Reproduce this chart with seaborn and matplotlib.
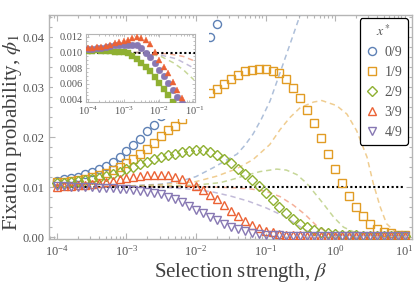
import matplotlib
matplotlib.use("Agg")
import matplotlib.pyplot as plt
import seaborn as sns
from matplotlib.lines import Line2D
from matplotlib.patches import Rectangle
from matplotlib.ticker import LogLocator, MultipleLocator, NullFormatter, FormatStrFormatter

# selection strengths of the simulations (10 per decade)
BETA = [1.00e-4, 1.26e-4, 1.58e-4, 2.00e-4, 2.51e-4, 3.16e-4, 3.98e-4, 5.01e-4, 6.31e-4, 7.94e-4,
        1.00e-3, 1.26e-3, 1.58e-3, 2.00e-3, 2.51e-3, 3.16e-3, 3.98e-3, 5.01e-3, 6.31e-3, 7.94e-3,
        1.00e-2, 1.26e-2, 1.58e-2, 2.00e-2, 2.51e-2, 3.16e-2, 3.98e-2, 5.01e-2, 6.31e-2, 7.94e-2,
        0.100, 0.126, 0.158, 0.200, 0.251, 0.316, 0.398, 0.501, 0.631, 0.794,
        1.00, 1.26, 1.58, 2.00, 2.51, 3.16, 3.98, 5.01, 6.31, 7.94, 10.0]

SIM_0 = [0.0113, 0.0116, 0.0118, 0.0121, 0.0126, 0.0131, 0.0137, 0.0143, 0.0151, 0.0160,
         0.0172, 0.0184, 0.0196, 0.0212, 0.0225, 0.0242, 0.0262, 0.0284, 0.0308, 0.0333,
         0.0358, 0.0380, 0.0400, 0.0426]
SIM_1 = [0.0110, 0.0111, 0.0113, 0.0115, 0.0117, 0.0120, 0.0124, 0.0128, 0.0134, 0.0141,
         0.0149, 0.0157, 0.0166, 0.0177, 0.0189, 0.0203, 0.0215, 0.0222, 0.0236, 0.0250,
         0.0263, 0.0277, 0.0289, 0.0296, 0.0307, 0.0316, 0.0325, 0.0332, 0.0335, 0.0337,
         0.0337, 0.0333, 0.0328, 0.0316, 0.0298, 0.0278, 0.0255, 0.0229, 0.0198, 0.0166,
         0.0137, 0.0109, 0.0083, 0.0060, 0.0042, 0.0027, 0.0017, 0.0011, 0.0008, 0.0005, 0.0004]
SIM_2 = [0.0108, 0.0109, 0.0110, 0.0112, 0.0114, 0.0117, 0.0119, 0.0123, 0.0127, 0.0131,
         0.0136, 0.0141, 0.0146, 0.0151, 0.0156, 0.0160, 0.0164, 0.0167, 0.0170, 0.0172,
         0.0174, 0.0174, 0.0171, 0.0165, 0.0157, 0.0148, 0.0137, 0.0127, 0.0115, 0.0102,
         0.0088, 0.0074, 0.0060, 0.0048, 0.0036, 0.0027, 0.0020, 0.0014, 0.0010, 0.0008,
         0.0006, 0.0005, 0.0004, 0.0004, 0.0003, 0.0003, 0.0003, 0.0003, 0.0003, 0.0003, 0.0003]
SIM_3 = [0.0101, 0.0102, 0.0103, 0.0104, 0.0105, 0.0107, 0.0109, 0.0111, 0.0113, 0.0116,
         0.0118, 0.0120, 0.0122, 0.0124, 0.0125, 0.0125, 0.0124, 0.0121, 0.0116, 0.0111,
         0.0103, 0.0094, 0.0085, 0.0076, 0.0065, 0.0053, 0.0043, 0.0033, 0.0024, 0.0018,
         0.0013, 0.0010, 0.0007, 0.0005, 0.0004, 0.0004, 0.0003, 0.0003, 0.0003, 0.0003,
         0.0003, 0.0003, 0.0003, 0.0003, 0.0003, 0.0003, 0.0003, 0.0003, 0.0003, 0.0003, 0.0003]
SIM_4 = [0.0102, 0.0102, 0.0101, 0.0101, 0.0100, 0.0100, 0.0099, 0.0099, 0.0098, 0.0097,
         0.0096, 0.0095, 0.0093, 0.0091, 0.0089, 0.0086, 0.0081, 0.0076, 0.0070, 0.0062,
         0.0055, 0.0048, 0.0041, 0.0034, 0.0027, 0.0021, 0.0016, 0.0012, 0.0009, 0.0007,
         0.0005, 0.0004, 0.0004, 0.0003, 0.0003, 0.0003, 0.0003, 0.0003, 0.0003, 0.0003,
         0.0003, 0.0003, 0.0003, 0.0003, 0.0003, 0.0003, 0.0003, 0.0003, 0.0003, 0.0003, 0.0003]

# approximation curves (dashed)
TH_0_B = [1e-4, 1e-3, 3.16e-3, 6.31e-3, 1e-2, 1.78e-2, 3.89e-2, 5.01e-2, 6.61e-2, 8.71e-2,
          0.116, 0.162, 0.224, 0.309, 0.355]
TH_0 = [0.0100, 0.0102, 0.0106, 0.0113, 0.0121, 0.0139, 0.0166, 0.0183, 0.0206, 0.0236,
        0.0272, 0.0329, 0.0385, 0.0441, 0.0470]
TH_1_B = [1e-4, 1e-3, 3.16e-3, 1e-2, 2.00e-2, 3.89e-2, 6.61e-2, 0.115, 0.162, 0.224, 0.316,
          0.490, 0.646, 1.05, 1.48, 2.04, 2.88, 3.55, 4.47, 5.50, 7.24, 9.55]
TH_1 = [0.0100, 0.0102, 0.0105, 0.0111, 0.0122, 0.0137, 0.0155, 0.0185, 0.0215, 0.0239, 0.0259,
        0.0270, 0.0273, 0.0263, 0.0246, 0.0213, 0.0160, 0.0107, 0.0060, 0.0027, 0.0011, 0.0004]
TH_2_B = [1e-4, 1e-3, 3.16e-3, 1e-2, 2.24e-2, 3.47e-2, 4.79e-2, 8.32e-2, 0.145, 0.200, 0.282,
          0.389, 0.490, 0.676, 0.955, 1.32, 1.82, 2.57, 4.47, 10.0]
TH_2 = [0.0100, 0.0101, 0.0102, 0.0104, 0.0109, 0.0116, 0.0122, 0.0131, 0.0136, 0.0134, 0.0125,
        0.0108, 0.0091, 0.0067, 0.0040, 0.0020, 0.0011, 0.0006, 0.0003, 0.0003]
TH_3_B = [1e-4, 1e-3, 3.16e-3, 1e-2, 3.16e-2, 5.62e-2, 0.100, 0.162, 0.251, 0.372, 0.550,
          0.794, 1.26, 3.16, 10.0]
TH_3 = [0.0100, 0.0100, 0.0101, 0.0101, 0.0099, 0.0097, 0.0092, 0.0081, 0.0064, 0.0045, 0.0022,
        0.0009, 0.0004, 0.0003, 0.0003]
TH_4_B = [1e-4, 1e-3, 3.98e-3, 1e-2, 1.78e-2, 3.16e-2, 5.62e-2, 0.100, 0.178, 0.282, 0.398,
          0.631, 1.58, 10.0]
TH_4 = [0.0100, 0.0100, 0.0099, 0.0095, 0.0090, 0.0082, 0.0072, 0.0059, 0.0043, 0.0025, 0.0012,
        0.0005, 0.0003, 0.0003]

# inset (8 per decade)
IN_B = [1.00e-4, 1.33e-4, 1.78e-4, 2.37e-4, 3.16e-4, 4.22e-4, 5.62e-4, 7.50e-4,
        1.00e-3, 1.33e-3, 1.78e-3, 2.37e-3, 3.16e-3, 4.22e-3, 5.62e-3, 7.50e-3,
        1.00e-2, 1.33e-2, 1.78e-2, 2.37e-2, 3.16e-2, 4.22e-2]
IN_3 = [0.01053, 0.01062, 0.01066, 0.01075, 0.01083, 0.01096, 0.01118, 0.01139, 0.01147, 0.01160,
        0.01182, 0.01200, 0.01180, 0.01160, 0.01110, 0.01010, 0.00910, 0.00818, 0.00733, 0.00626,
        0.00519, 0.00412]
IN_4 = [0.01045, 0.01050, 0.01053, 0.01060, 0.01075, 0.01083, 0.01090, 0.01090, 0.01096, 0.01096,
        0.01096, 0.01090, 0.01053, 0.01000, 0.00940, 0.00860, 0.00780, 0.00700, 0.00610, 0.00520,
        0.00430, 0.00350]
IN_2 = [0.01024, 0.01024, 0.01028, 0.01020, 0.01020, 0.01020, 0.01010, 0.01010, 0.01010, 0.01000,
        0.00960, 0.00915, 0.00870, 0.00820, 0.00767, 0.00690, 0.00613, 0.00528, 0.00455, 0.00370]
IN_TH_3_B = [1e-4, 5.0e-3, 1.05e-2, 2.0e-2, 4.68e-2, 9.33e-2]
IN_TH_3 = [0.0100, 0.0100, 0.0099, 0.0098, 0.0095, 0.00895]
IN_TH_4_B = [1e-4, 3.0e-3, 1.05e-2, 3.0e-2, 9.33e-2]
IN_TH_4 = [0.0100, 0.0100, 0.0097, 0.0092, 0.0080]
IN_TH_2_B = [1e-4, 2.9e-3, 1.12e-2, 2.45e-2, 4.68e-2, 9.33e-2]
IN_TH_2 = [0.0100, 0.0100, 0.0095, 0.0087, 0.0078, 0.0065]

LABELS = ["0/9", "1/9", "2/9", "3/9", "4/9"]
COLORS = ["#5E81B5", "#E19C24", "#8FB032", "#EB6235", "#8778B3"]
MARKERS = ["o", "s", "D", "^", "v"]
SIZES = [5.8, 5.4, 4.8, 6.2, 6.2]

sns.set_theme(style="ticks")
plt.rcParams["font.family"] = ["Liberation Serif", "DejaVu Serif"]
plt.rcParams["mathtext.fontset"] = "stix"
GREY = "#555555"
FRAME = "#b5b5b5"

fig = plt.figure(figsize=(4.15, 2.83), dpi=100)
ax = fig.add_axes([0.118, 0.155, 0.875, 0.792])

dash = dict(linestyle=(0, (3.5, 2.5)), linewidth=1.1, alpha=0.5)
for xb, yv, c in zip([TH_0_B, TH_1_B, TH_2_B, TH_3_B, TH_4_B],
                     [TH_0, TH_1, TH_2, TH_3, TH_4], COLORS):
    sns.lineplot(x=xb, y=yv, color=c, estimator=None, sort=False, ax=ax, **dash)

ax.plot([1e-4, 10], [0.01, 0.01], color="black", lw=1.5, ls=(0, (1, 1.2)), zorder=3)

for ys, c, m, s in zip([SIM_0, SIM_1, SIM_2, SIM_3, SIM_4], COLORS, MARKERS, SIZES):
    sns.lineplot(x=BETA[:len(ys)], y=ys, color=c, estimator=None, sort=False, ax=ax,
                 linestyle="none", marker=m, markersize=s, markerfacecolor="none",
                 markeredgecolor=c, markeredgewidth=1.0, zorder=4)

ax.set_xscale("log")
ax.set_xlim(10 ** -4.115, 10 ** 1.108)
ax.set_ylim(-0.0004, 0.0444)
ax.xaxis.set_major_locator(LogLocator(base=10, numticks=10))
ax.xaxis.set_minor_locator(LogLocator(base=10, subs=range(2, 10), numticks=20))
ax.xaxis.set_minor_formatter(NullFormatter())
ax.yaxis.set_major_locator(MultipleLocator(0.01))
ax.yaxis.set_minor_locator(MultipleLocator(0.002))
ax.yaxis.set_major_formatter(FormatStrFormatter("%.2f"))
ax.tick_params(which="both", direction="in", top=True, right=True, color=FRAME,
               labelsize=9, labelcolor=GREY, width=0.8)
ax.tick_params(which="major", length=4)
ax.tick_params(which="minor", length=2)
for sp in ax.spines.values():
    sp.set_color(FRAME)
    sp.set_linewidth(1.0)
ax.set_xlabel(r"Selection strength, $\beta$", fontsize=15, color="#404040")
ax.set_ylabel(r"Fixation probability, $\phi_1$", fontsize=15, color="#404040")
ax.xaxis.set_label_coords(0.529, -0.098)
ax.yaxis.set_label_coords(-0.070, 0.478)

handles = [Line2D([], [], linestyle="none", marker=m, markersize=s, markerfacecolor="none",
                  markeredgecolor=c, markeredgewidth=1.0)
           for c, m, s in zip(COLORS, MARKERS, SIZES)]
leg = ax.legend(handles, LABELS, title=r"$x^*$", loc="upper right",
                bbox_to_anchor=(0.989, 0.987), borderaxespad=0, fontsize=10,
                title_fontsize=10, labelspacing=0.5, handletextpad=0.4,
                handlelength=1.0, borderpad=0.4, frameon=True, fancybox=True)
leg.get_frame().set_edgecolor("black")
leg.get_frame().set_linewidth(0.9)
leg.get_frame().set_alpha(1)
for t in leg.get_texts():
    t.set_color(GREY)
leg.get_title().set_color(GREY)

# white backing behind the inset and its labels
ax.add_patch(Rectangle((53 / 415, (283 - 119) / 283), (209 - 53) / 415, (119 - 28) / 283,
                       transform=fig.transFigure, facecolor="white", edgecolor="none",
                       zorder=6, clip_on=False))

ins = fig.add_axes([0.2072, 0.6406, 0.2627, 0.2392])
ins.set_facecolor("white")
for xb, yv, c in zip([IN_TH_2_B, IN_TH_3_B, IN_TH_4_B], [IN_TH_2, IN_TH_3, IN_TH_4],
                     [COLORS[2], COLORS[3], COLORS[4]]):
    sns.lineplot(x=xb, y=yv, color=c, estimator=None, sort=False, ax=ins, **dash)
ins.plot([1e-4, 1e-1], [0.01, 0.01], color="black", lw=1.5, ls=(0, (1, 1.2)), zorder=3)
for ys, c, m, s in zip([IN_2, IN_4, IN_3], [COLORS[2], COLORS[4], COLORS[3]],
                       ["s", "o", "^"], [4.2, 4.8, 5.0]):
    sns.lineplot(x=IN_B[:len(ys)], y=ys, color=c, estimator=None, sort=False, ax=ins,
                 linestyle="none", marker=m, markersize=s, markerfacecolor=c,
                 markeredgecolor=c, markeredgewidth=0.3, zorder=4)
ins.set_xscale("log")
ins.set_xlim(10 ** -4.05, 10 ** -1.0)
ins.set_ylim(0.0037, 0.01237)
ins.xaxis.set_major_locator(LogLocator(base=10, numticks=10))
ins.xaxis.set_minor_locator(LogLocator(base=10, subs=range(2, 10), numticks=20))
ins.xaxis.set_minor_formatter(NullFormatter())
ins.yaxis.set_major_locator(MultipleLocator(0.002))
ins.yaxis.set_minor_locator(MultipleLocator(0.0005))
ins.yaxis.set_major_formatter(FormatStrFormatter("%.3f"))
ins.tick_params(which="both", direction="in", top=True, right=True, color=FRAME,
                labelsize=7.5, labelcolor=GREY, width=0.6, pad=2)
ins.tick_params(which="major", length=2.5)
ins.tick_params(which="minor", length=1.3)
for sp in ins.spines.values():
    sp.set_color(FRAME)
    sp.set_linewidth(0.8)
ins.set_xlabel("")
ins.set_ylabel("")

fig.savefig("out.png", dpi=100)
